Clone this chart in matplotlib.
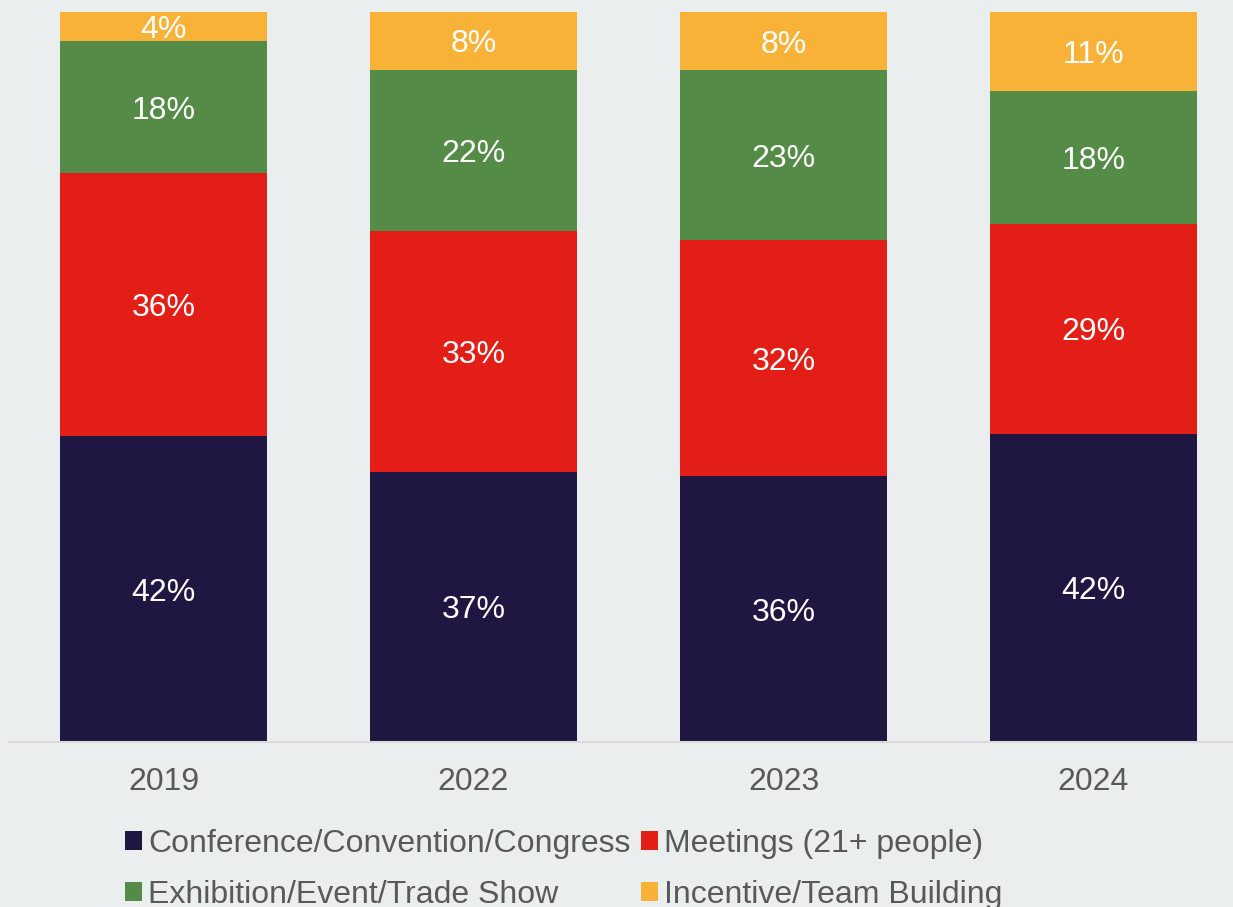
import matplotlib
matplotlib.use("Agg")
import matplotlib.pyplot as plt
import numpy as np

years = ["2019", "2022", "2023", "2024"]
series_names = ["Conference/Convention/Congress", "Meetings (21+ people)",
                "Exhibition/Event/Trade Show", "Incentive/Team Building"]
conference = [41.9, 37.0, 36.4, 42.2]
meetings = [36.0, 33.0, 32.3, 28.8]
exhibition = [18.1, 22.1, 23.3, 18.2]
incentive = [4.0, 7.9, 8.0, 10.8]
labels_conference = ["42%", "37%", "36%", "42%"]
labels_meetings = ["36%", "33%", "32%", "29%"]
labels_exhibition = ["18%", "22%", "23%", "18%"]
labels_incentive = ["4%", "8%", "8%", "11%"]

colors = ["#1F1642", "#E31E16", "#548B46", "#F9B238"]
bg = "#EBEEEF"

plt.rcParams['font.family'] = ['Liberation Sans', 'DejaVu Sans']

W, H = 1233, 907
fig = plt.figure(figsize=(W / 100, H / 100), dpi=100, facecolor=bg)
ax = fig.add_axes([8.5 / W, (H - 742) / H, 1240 / W, 730 / H])
ax.set_facecolor(bg)

x = np.arange(len(years))
data = [conference, meetings, exhibition, incentive]
labels = [labels_conference, labels_meetings, labels_exhibition, labels_incentive]
bottom = np.zeros(len(years))
handles = []
for vals, labs, col, name in zip(data, labels, colors, series_names):
    vals = np.array(vals)
    b = ax.bar(x, vals, bottom=bottom, width=0.668, color=col, label=name, zorder=2)
    handles.append(b)
    for xi, v, bt, lab in zip(x, vals, bottom, labs):
        ax.annotate(lab, (xi, bt + v / 2), xytext=(0, -2.5), textcoords='offset points',
                    ha='center', va='center', color='white', fontsize=23, zorder=3)
    bottom += vals

ax.set_xlim(-0.5, 3.5)
ax.set_ylim(0, 100)
ax.set_yticks([])
ax.set_xticks(x)
ax.set_xticklabels(years, fontsize=23, color="#595959")
ax.tick_params(axis='x', length=0, pad=18)
for s in ['top', 'right', 'left']:
    ax.spines[s].set_visible(False)
ax.spines['bottom'].set_color("#D9D9D9")
ax.spines['bottom'].set_linewidth(1.5)

# legend filled row-wise: reorder for matplotlib's column-wise fill
order = [0, 2, 1, 3]
leg = fig.legend(handles=[handles[i] for i in order],
                 labels=[series_names[i] for i in order], loc='upper left',
                 bbox_to_anchor=(125 / W, (H - 829) / H), ncol=2, frameon=False,
                 fontsize=23, handlelength=0.53, handleheight=0.53,
                 handletextpad=0.2, columnspacing=0.31, labelspacing=0.66,
                 borderpad=0, borderaxespad=0)
for t in leg.get_texts():
    t.set_color("#595959")

fig.savefig("out.png", dpi=100, facecolor=bg)
